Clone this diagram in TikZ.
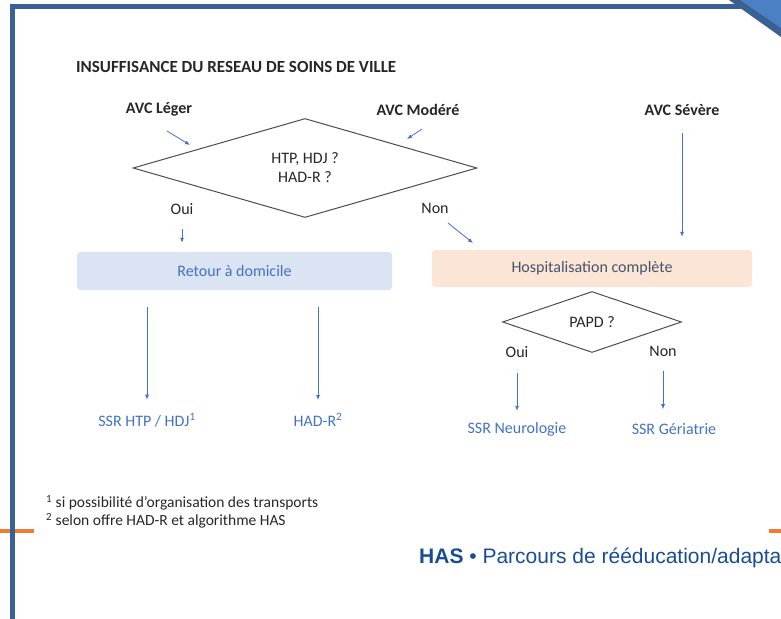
\documentclass[tikz,border=0pt]{standalone}
\usepackage{fontspec}
\setmainfont{Carlito}
\newfontfamily\arialfont{Liberation Sans}
\usepackage{xcolor}
\usetikzlibrary{arrows.meta, positioning, shapes.geometric}

\definecolor{framebl}{RGB}{59,96,148}
\definecolor{cornerbl}{RGB}{76,128,196}
\definecolor{hasorange}{RGB}{237,125,49}
\definecolor{hasblue}{RGB}{24,77,150}
\definecolor{linkbl}{RGB}{68,114,196}
\definecolor{retourfill}{RGB}{219,228,243}
\definecolor{hospfill}{RGB}{251,229,214}
\definecolor{txtgray}{RGB}{38,38,38}
\definecolor{hosptxt}{RGB}{68,84,106}

\begin{document}
\begin{tikzpicture}[
  x=1pt, y=-1pt,
  every node/.style={font=\fontsize{16}{19}\selectfont, text=txtgray, inner sep=1pt},
  head/.style={font=\bfseries\fontsize{16}{19}\selectfont},
  choice/.style={draw=black!70, line width=1pt, diamond, inner sep=0pt, align=center},
  stage/.style={rectangle, rounded corners=3pt, minimum height=38pt, inner sep=0pt},
  outcome/.style={text=linkbl},
  arrow/.style={-{Latex[length=5pt,width=4pt]}, draw=linkbl, line width=0.8pt},
  note/.style={font=\fontsize{15.5}{18}\selectfont, anchor=west},
]
\clip (0,0) rectangle (781,618);

% page frame
\draw[hasorange, line width=4pt] (0,531) -- (34,531);
\draw[hasorange, line width=4pt] (769,531) -- (781,531);
\draw[framebl, line width=5pt] (12,620) -- (12,7) -- (745,7);
\fill[framebl] (729,0) -- (781,0) -- (781,37) -- cycle;
\fill[cornerbl] (740,0) -- (781,0) -- (781,28) -- cycle;
\node[anchor=base west, inner sep=0pt, text=hasblue,
      font=\arialfont\fontsize{21}{25}\selectfont] (footer) at (419,563)
  {\textbf{HAS} • Parcours de rééducation/adapta};

% diagram
\node[head, anchor=west, font=\bfseries\fontsize{17}{20}\selectfont] (titre) at (75,67)
  {INSUFFISANCE DU RESEAU DE SOINS DE VILLE};
\node[head] (leger)  at (159,109) {AVC Léger};
\node[head] (modere) at (418,110) {AVC Modéré};
\node[head] (severe) at (682,110) {AVC Sévère};

\node[choice, minimum width=344pt, minimum height=99pt] (hdj) at (305,168)
  {HTP, HDJ ?\\HAD-R ?};
\node (oui) at (182,209) {Oui};
\node (non) at (435,208) {Non};

\node[stage, fill=retourfill, text=linkbl, minimum width=315pt] (retour) at (234.5,271)
  {Retour à domicile};
\node[stage, fill=hospfill, text=hosptxt, minimum width=320pt, minimum height=37pt] (hospit)
  at (592,268.5) {Hospitalisation complète};

\node[choice, minimum width=179pt, minimum height=61pt] (papd) at (592,322) {PAPD ?};
\node (oui2) at (517,352) {Oui};
\node (non2) at (663,351) {Non};

\node[outcome] (ssrhtp) at (147,420) {SSR HTP / HDJ\textsuperscript{1}};
\node[outcome] (hadr)   at (318,420) {HAD-R\textsuperscript{2}};
\node[outcome] (neuro)  at (517,429) {SSR Neurologie};
\node[outcome] (geria)  at (674,429) {SSR Gériatrie};

\node[note] (note1) at (45,503) {\textsuperscript{1} si possibilité d’organisation des transports};
\node[note] (note2) at (45,521) {\textsuperscript{2} selon offre HAD-R et algorithme HAS};

% arrows
\draw[arrow] ([shift={(8,22)}]leger.center) -- ++(23,14);
\draw[arrow] ([shift={(4,19)}]modere.center) -- ++(-15,10);
\draw[arrow] ([shift={(13,15)}]non.center) -- ++(25,20);
\draw[arrow, shorten <=13pt, shorten >=9pt] (oui.south) -- (oui.south |- retour.north);
\draw[arrow, shorten <=16pt, shorten >=13pt] (severe.south) -- (severe.south |- hospit.north);
\draw[arrow, shorten <=17pt, shorten >=12pt] (retour.south -| ssrhtp.north) -- (ssrhtp.north);
\draw[arrow, shorten <=17pt, shorten >=12pt] (retour.south -| hadr.north) -- (hadr.north);
\draw[arrow, shorten <=14pt, shorten >=10pt] (oui2.south) -- (oui2.south |- neuro.north);
\draw[arrow, shorten <=14pt, shorten >=13pt] (non2.south) -- (non2.south |- geria.north);
\end{tikzpicture}
\end{document}
